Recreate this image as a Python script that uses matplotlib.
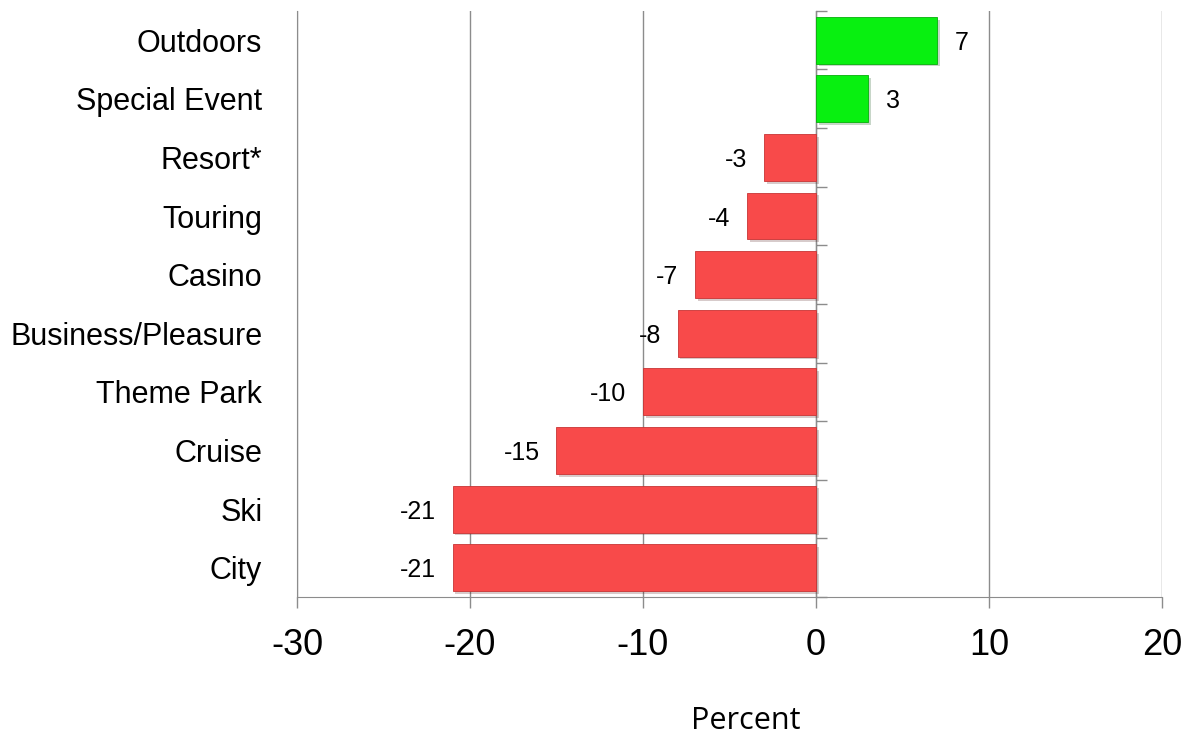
import numpy as np
import matplotlib.pyplot as plt
import matplotlib.patheffects as pe

categories = ['Outdoors', 'Special Event', 'Resort*', 'Touring', 'Casino',
              'Business/Pleasure', 'Theme Park', 'Cruise', 'Ski', 'City']
values = [7, 3, -3, -4, -7, -8, -10, -15, -21, -21]
x_ticks = [-30, -20, -10, 0, 10, 20]

green = '#08F010'
red = '#F84A4A'
grid_col = '#8C8C8C'

fig = plt.figure(figsize=(11.85, 7.39), dpi=100)
ax = fig.add_axes([0.2506, 0.1921, 0.7300, 0.7932])

y = np.arange(len(categories))
colors = [green if v > 0 else red for v in values]
edges = ['#05B00A' if v > 0 else '#C83434' for v in values]
shadow = [pe.SimplePatchShadow(offset=(2, -2), alpha=0.22), pe.Normal()]
bars = ax.barh(y, values, height=0.8, color=colors, edgecolor=edges,
               linewidth=0.6, zorder=3)
for b in bars:
    b.set_path_effects(shadow)

# value labels just beyond the end of each bar
for yi, v in zip(y, values):
    if v > 0:
        ax.annotate(str(v), (v, yi), xytext=(13, 0), textcoords='offset points',
                    ha='left', va='center_baseline', fontsize=18,
                    family='Liberation Sans')
    else:
        ax.annotate(str(v), (v, yi), xytext=(-12, 0), textcoords='offset points',
                    ha='right', va='center_baseline', fontsize=18,
                    family='Liberation Sans')

ax.set_xlim(-30, 20)
ax.set_ylim(len(categories) - 0.5, -0.5)
ax.set_xticks(x_ticks)
ax.set_xticklabels([str(t) for t in x_ticks], fontsize=26, family='Liberation Sans')
ax.tick_params(axis='x', length=8, width=1, color=grid_col, pad=14)
ax.set_yticks(y)
ax.set_yticklabels(categories, fontsize=22, family='Liberation Sans')
ax.tick_params(axis='y', length=0, pad=25)

ax.grid(axis='x', color=grid_col, linewidth=1, zorder=0)
ax.set_axisbelow(True)
for side in ['top', 'right']:
    ax.spines[side].set_visible(False)
ax.spines['left'].set_color(grid_col)
ax.spines['bottom'].set_color(grid_col)

# category axis sits on the zero line, ticks between categories
zero_pos = (0 - x_ticks[0]) / (x_ticks[-1] - x_ticks[0])
sec = ax.secondary_yaxis(zero_pos)
sec.set_yticks(np.arange(len(categories) + 1) - 0.5)
sec.set_yticklabels([])
sec.tick_params(axis='y', length=8, width=1, color=grid_col)
sec.spines['left'].set_color(grid_col)

ax.set_xlabel('Percent', fontsize=22, family='Open Sans', va='center')
ax.xaxis.set_label_coords(0.519, -0.212)

fig.savefig('out.png', dpi=100)
